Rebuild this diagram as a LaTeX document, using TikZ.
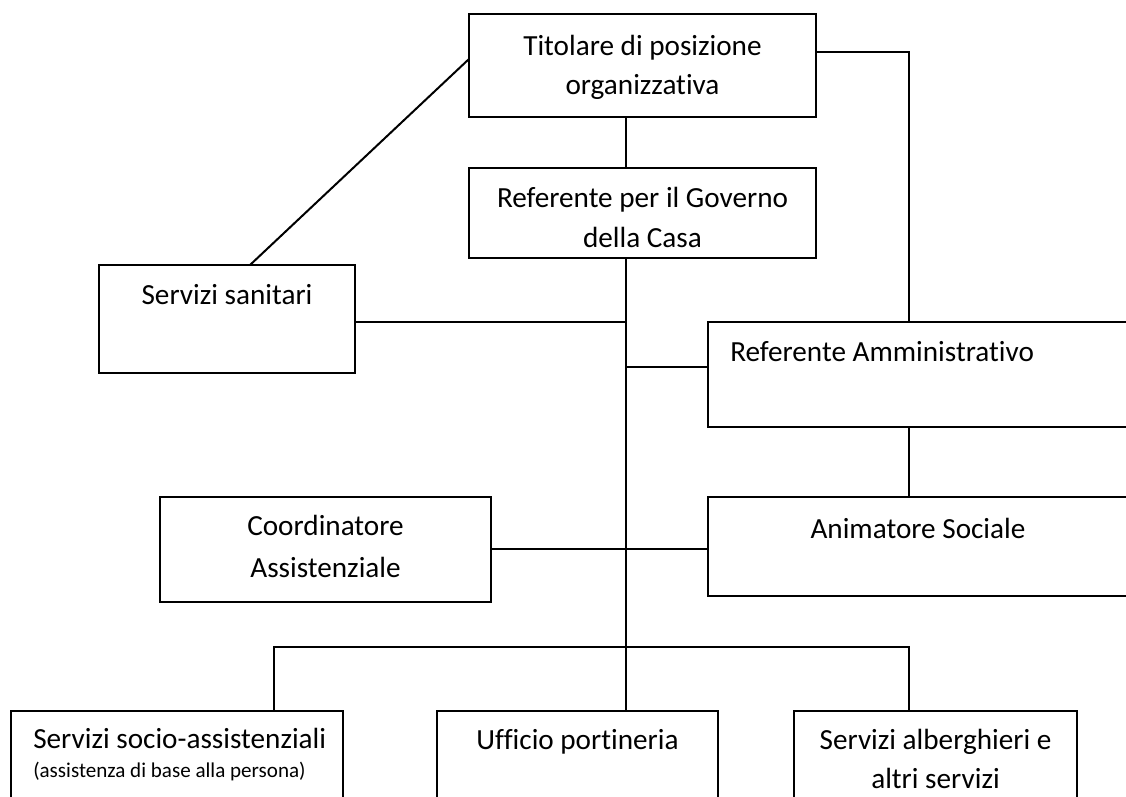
\documentclass[tikz,border=0pt]{standalone}
\usepackage{fontspec}
\setmainfont[Ligatures={NoCommon}]{Carlito}
\usetikzlibrary{fit,calc}
\begin{document}
\begin{tikzpicture}[x=0.75pt,y=-0.75pt,
  box/.style={draw=black,line width=1.5pt,inner sep=0pt,fill=none},
  conn/.style={draw=black,line width=1.5pt},
  txt/.style={inner sep=0pt,anchor=base,font=\fontsize{21.9}{30}\selectfont},
  txtl/.style={txt,anchor=base west},
  small/.style={inner sep=0pt,anchor=base west,font=\fontsize{15.8}{20}\selectfont}]
\useasboundingbox (0,0) rectangle (1126,796);
\clip (0,0) rectangle (1126,796);
\fill[white] (0,0) rectangle (1126,796);
% boxes
\node[box,fit={(469,14) (816,117)}] (tit) {};
\node[box,fit={(469,168) (816,258)}] (refgov) {};
\node[box,fit={(99,265) (355,373)}] (san) {};
\node[box,fit={(708,322) (1130,427)}] (refamm) {};
\node[box,fit={(708,497) (1130,596)}] (anim) {};
\node[box,fit={(160,497) (491,602)}] (coord) {};
\node[box,fit={(11,711) (343,830)}] (soc) {};
\node[box,fit={(437,711) (718,830)}] (uff) {};
\node[box,fit={(794,711) (1077,830)}] (alb) {};
% texts
\node[txt] (t1a) at (642.5,55) {Titolare di posizione};
\node[txt] (t1b) at (642.5,94) {organizzativa};
\node[txt] (t2a) at (642.5,207) {Referente per il Governo};
\node[txt] (t2b) at (642.5,247) {della Casa};
\node[txt] (t3) at (227,304) {Servizi sanitari};
\node[txtl] (t4) at (730,361) {Referente Amministrativo};
\node[txt] (t5) at (918,538) {Animatore Sociale};
\node[txt] (t6a) at (325.5,535) {Coordinatore};
\node[txt] (t6b) at (325.5,577) {Assistenziale};
\node[txtl] (t7a) at (33,748) {Servizi socio-assistenziali};
\node[small] (t7b) at (33,777) {(assistenza di base alla persona)};
\node[txt] (t8) at (577.5,749) {Ufficio portineria};
\node[txt] (t9a) at (935.5,749) {Servizi alberghieri e};
\node[txt] (t9b) at (935.5,788) {altri servizi};
% coordinates for the connector lines
\coordinate (spine) at (626,0);
\coordinate (rx) at (909,0);
\coordinate (busL) at (274,647);
\coordinate (busR) at (909,647);
\coordinate (titL) at (469,59);
\coordinate (titR) at (816,52);
\coordinate (sanTop) at (250,265);
\coordinate (sanR) at (355,322);
\coordinate (ammL) at (708,367);
\coordinate (coordR) at (491,549);
% connectors
\draw[conn] (tit.south -| spine) -- (refgov.north -| spine);
\draw[conn] (titL) -- (sanTop);
\draw[conn] (titR) -| (refamm.north -| rx);
\draw[conn] (refgov.south -| spine) -- (uff.north -| spine);
\draw[conn] (sanR) -- (sanR -| spine);
\draw[conn] (ammL -| spine) -- (ammL);
\draw[conn] (coordR) -- (coordR -| anim.west);
\draw[conn] (refamm.south -| rx) -- (anim.north -| rx);
\draw[conn] (soc.north -| busL) -- (busL) -- (busR) -- (alb.north -| busR);
\end{tikzpicture}
\end{document}
